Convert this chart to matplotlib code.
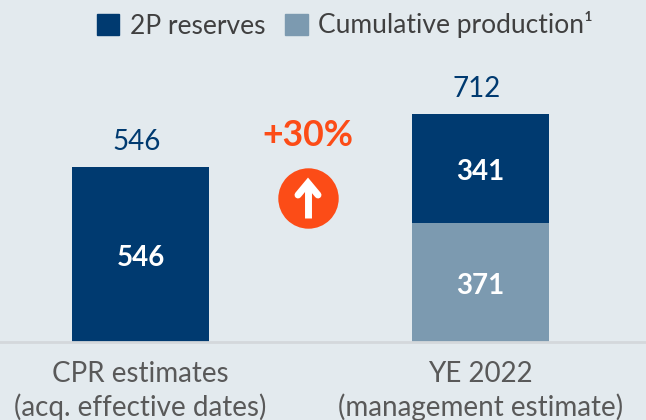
import matplotlib
matplotlib.use('Agg')
import matplotlib.pyplot as plt
from matplotlib.patches import Patch

# ---- data ----
categories = ['CPR estimates\n(acq. effective dates)', 'YE 2022\n(management estimate)']
cumulative = [0, 371]
reserves = [546, 341]
totals = [546, 712]
growth_label = '+30%'

NAVY = '#003a70'
STEEL = '#7c9ab0'
BG = '#e3eaee'
ORANGE = '#fc4c17'

plt.rcParams['font.family'] = ['Lato', 'DejaVu Sans']

W, H = 646, 420
fig = plt.figure(figsize=(W/100, H/100), dpi=100, facecolor=BG)
ax = fig.add_axes([0, 0, 1, 1], facecolor=BG)

# scales picked so the baseline lands at y=342px and the bars at x=72-209 / 412-549
px_x = 340.0
px_y = 0.32
base_px = 342
ax.set_xlim(-140.5/px_x, (W-140.5)/px_x)
ax.set_ylim(-(H-base_px)/px_y, base_px/px_y)

x = range(len(categories))
ax.bar(x, cumulative, width=137/px_x, color=STEEL)
ax.bar(x, reserves, width=137/px_x, bottom=cumulative, color=NAVY)

# baseline
ax.axhline(0, color='#d4d8db', linewidth=2)

# value labels
for i, (c, r, t) in enumerate(zip(cumulative, reserves, totals)):
    ax.annotate(str(t), (i, t), xytext=(-4, 12), textcoords='offset pixels',
                ha='center', va='bottom', fontsize=20, color=NAVY)
    ax.annotate(str(r), (i, c + r/2), xytext=(0, -3), textcoords='offset pixels',
                ha='center', va='center', fontsize=20, fontweight='bold', color='white')
    if c:
        ax.annotate(str(c), (i, c/2), xytext=(0, -3), textcoords='offset pixels',
                    ha='center', va='center', fontsize=20, fontweight='bold', color='white')
    ax.annotate(categories[i], (i, 0), xytext=(0, -19), textcoords='offset pixels',
                ha='center', va='top', fontsize=20, color='#595959', linespacing=1.3)

ax.set_xticks([]); ax.set_yticks([])
for s in ax.spines.values():
    s.set_visible(False)

# legend
handles = [Patch(color=NAVY, label='2P reserves'),
           Patch(color=STEEL, label='Cumulative production\u00b9')]
fig.legend(handles=handles, loc='center left', bbox_to_anchor=(97/W, 1-25/H), ncol=2,
           frameon=False, fontsize=19, labelcolor='#404040', handlelength=0.85,
           handleheight=0.85, handletextpad=0.4, columnspacing=0.75,
           borderpad=0, borderaxespad=0)

# growth callout, drawn in pixel coords
ov = fig.add_axes([0, 0, 1, 1], facecolor='none')
ov.set_xlim(0, W); ov.set_ylim(H, 0); ov.axis('off')
ov.text(308, 136, growth_label, ha='center', va='center', fontsize=25.7,
        fontweight='bold', color=ORANGE)
ov.plot([308], [198], marker='o', markersize=43.5, color=ORANGE, markeredgewidth=0)
ov.plot([308, 308], [218, 182], color='white', linewidth=5, solid_capstyle='butt')
ov.plot([298, 308, 318], [195, 183, 195], color='white', linewidth=5,
        solid_capstyle='round', solid_joinstyle='miter')

fig.savefig('out.png', dpi=100, facecolor=BG)
